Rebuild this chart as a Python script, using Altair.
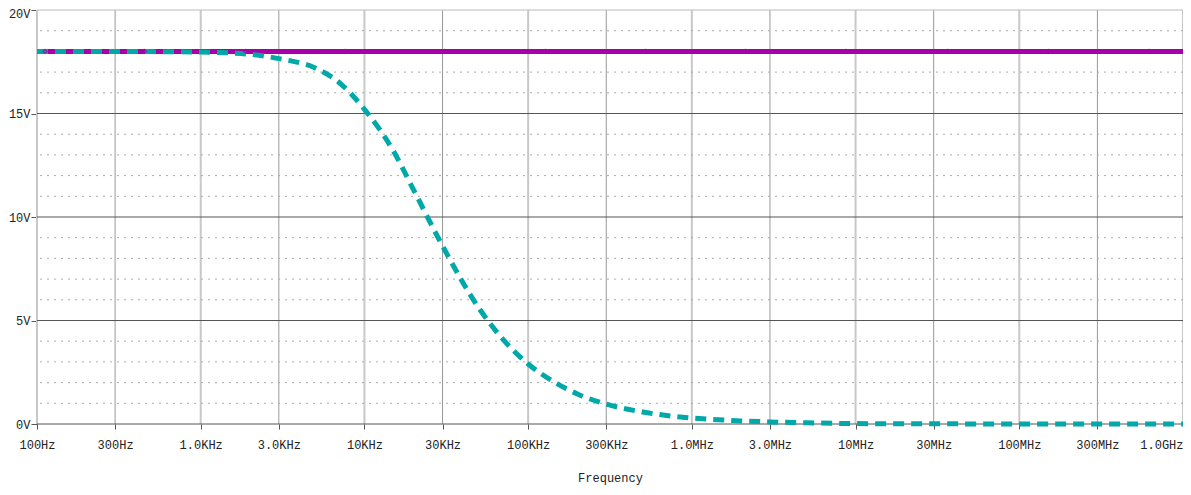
import altair as alt
import pandas as pd

# ---- data ----
freq_in = [100, 1e6, 1e9]
v_in = [18.0, 18.0, 18.0]

freq_out = [100, 200, 500, 1000, 2000, 3000, 5000, 7000, 10000, 15000, 20000,
            30000, 50000, 70000, 100000, 150000, 200000, 300000, 500000,
            700000, 1e6, 2e6, 3e6, 5e6, 1e7, 3e7, 1e8, 1e9]
v_out = [18.0, 18.0, 17.99, 17.97, 17.86, 17.65, 17.2, 16.5, 15.2, 13.2, 11.3,
         8.6, 5.6, 4.1, 2.9, 1.95, 1.45, 0.96, 0.58, 0.41, 0.29, 0.15, 0.1,
         0.06, 0.02, 0.01, 0.0, 0.0]

marker_freq = [112, 453, 1884, 7620, 30800, 128000, 520000, 2.13e6, 8.75e6,
               3.65e7, 1.5e8, 6.22e8]

x_ticks = [100, 300, 1000, 3000, 1e4, 3e4, 1e5, 3e5, 1e6, 3e6, 1e7, 3e7, 1e8, 3e8, 1e9]
x_labels = ["100Hz", "300Hz", "1.0KHz", "3.0KHz", "10KHz", "30KHz", "100KHz",
            "300KHz", "1.0MHz", "3.0MHz", "10MHz", "30MHz", "100MHz", "300MHz", "1.0GHz"]
decade_ticks = [100, 1000, 1e4, 1e5, 1e6, 1e7, 1e8, 1e9]
three_ticks = [300, 3000, 3e4, 3e5, 3e6, 3e7, 3e8]
y_ticks = [0, 5, 10, 15, 20]
y_major = [0, 5, 10, 15]
y_top = [20]
y_minor = [1, 2, 3, 4, 6, 7, 8, 9, 11, 12, 13, 14, 16, 17, 18, 19]

FONT = "Liberation Mono"
MAGENTA = "#A800A8"
CYAN = "#00A8A8"

xscale = alt.Scale(type="log", domain=[100, 1e9], nice=False)
yscale = alt.Scale(domain=[0, 20], nice=False)

label_expr = ("[" + ",".join("'%s'" % s for s in x_labels) + "][indexof(["
              + ",".join(repr(float(v)) for v in x_ticks) + "], datum.value)]")

df_in = pd.DataFrame({"f": freq_in, "v": v_in})
df_out = pd.DataFrame({"f": freq_out, "v": v_out})
df_mk = pd.DataFrame({"f": marker_freq, "v": [18.0] * len(marker_freq)})

x_axis = alt.Axis(values=x_ticks, labelExpr=label_expr, grid=False, domain=False,
                  tickSize=5, tickColor="#555", labelFont=FONT, labelFontSize=12,
                  labelColor="#222", labelPadding=10, title="Frequency",
                  titleFont=FONT, titleFontSize=12, titleFontWeight="normal",
                  titleColor="#222", titlePadding=22,
                  labelAlign=alt.expr("datum.value >= 1e9 ? 'right' : 'center'"))
y_axis = alt.Axis(values=y_ticks, labelExpr="datum.value + 'V'",
                  grid=False, domain=False, tickSize=6, tickColor="#555",
                  labelFont=FONT, labelFontSize=12, labelColor="#222",
                  labelPadding=1, title=None,
                  labelBaseline=alt.expr("datum.value >= 20 ? 'top' : 'middle'"),
                  labelOffset=alt.expr("datum.value >= 20 ? -2 : 0"))

minor = alt.Chart(pd.DataFrame({"y": y_minor})).mark_rule(
    color="#aaa", strokeWidth=1, strokeDash=[2, 5]).encode(
    y=alt.Y("y:Q", scale=yscale, axis=y_axis))
major = alt.Chart(pd.DataFrame({"y": y_major})).mark_rule(
    color="#555", strokeWidth=1).encode(y=alt.Y("y:Q", scale=yscale))
top = alt.Chart(pd.DataFrame({"y": y_top})).mark_rule(
    color="#bbb", strokeWidth=1).encode(y=alt.Y("y:Q", scale=yscale))
vdec = alt.Chart(pd.DataFrame({"x": decade_ticks})).mark_rule(
    color="#c8c8c8", strokeWidth=2).encode(x=alt.X("x:Q", scale=xscale, axis=x_axis))
vthree = alt.Chart(pd.DataFrame({"x": three_ticks})).mark_rule(
    color="#999", strokeWidth=1).encode(x=alt.X("x:Q", scale=xscale))

line_in = alt.Chart(df_in).mark_line(color=MAGENTA, strokeWidth=5).encode(
    x=alt.X("f:Q", scale=xscale), y=alt.Y("v:Q", scale=yscale))
marks_in = alt.Chart(df_mk).mark_point(shape="diamond", size=18, color=MAGENTA,
                                       filled=False, strokeWidth=1.2).encode(
    x=alt.X("f:Q", scale=xscale), y=alt.Y("v:Q", scale=yscale))
line_out = alt.Chart(df_out).mark_line(color=CYAN, strokeWidth=5,
                                       strokeDash=[11, 7], interpolate="monotone").encode(
    x=alt.X("f:Q", scale=xscale), y=alt.Y("v:Q", scale=yscale))

chart = alt.layer(vdec, vthree, minor, major, top, line_in, line_out, marks_in).properties(
    width=1146, height=414,
    autosize=alt.AutoSizeParams(type="none"),
    padding={"left": 29, "top": 2, "right": 0, "bottom": 63},
    background="white",
).configure_view(strokeWidth=0)

chart.save("out.html", embed_options={"renderer": "svg", "actions": False})
